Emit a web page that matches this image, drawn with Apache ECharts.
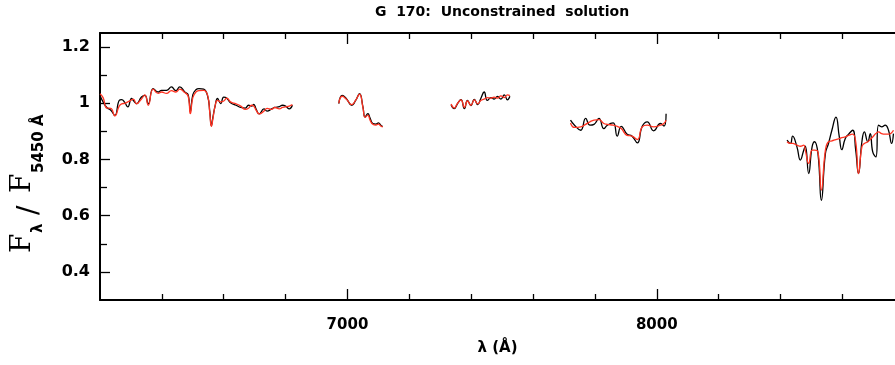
<!DOCTYPE html>
<html><head><meta charset="utf-8">
<script src="https://cdn.jsdelivr.net/npm/echarts@6/dist/echarts.min.js"></script>
<style>html,body{margin:0;padding:0;background:#fff}#c{width:895px;height:365px}</style>
</head><body><div id="c"></div>
<script>
// ---- data (wavelength in Å, flux normalised to F5450) ----
const wave1 = [6200,6210,6222,6235,6248,6262,6270,6280,6290,6302,6308,6318,6334,6345,6356,6372,6388,6399,6415,6431,6445,6458,6474,6485,6492,6500,6510,6520,6535,6548,6555,6560,6565,6572,6580,6590,6600,6610,6622,6640,6655,6670,6680,6690,6697,6705,6715,6730,6740,6755,6765,6780,6790,6800,6812,6822];
const obs1  = [1.028,1.005,0.985,0.975,0.957,1.010,1.013,1.003,0.987,1.017,1.010,0.999,1.022,1.028,0.998,1.052,1.040,1.046,1.046,1.058,1.045,1.058,1.040,1.030,0.970,1.030,1.048,1.052,1.050,1.025,0.970,0.920,0.950,0.990,1.017,0.999,1.022,1.018,1.002,0.993,0.985,0.983,0.993,0.990,0.996,0.978,0.962,0.980,0.972,0.980,0.985,0.988,0.993,0.990,0.980,0.993];
const mod1  = [1.034,1.020,0.983,0.982,0.955,0.990,0.998,1.000,1.005,1.012,1.015,0.998,1.015,1.030,0.993,1.050,1.035,1.040,1.035,1.045,1.040,1.050,1.038,1.025,0.963,1.020,1.040,1.045,1.046,1.028,0.965,0.918,0.945,0.990,1.010,1.005,1.008,1.018,1.005,0.998,0.990,0.978,0.982,0.993,0.990,0.975,0.962,0.972,0.982,0.978,0.985,0.980,0.985,0.987,0.990,0.995];

const wave2 = [6972,6983,6996,7014,7026,7039,7050,7057,7066,7073,7082,7092,7100,7109,7114];
const obs2  = [0.999,1.028,1.017,0.993,1.009,1.034,0.987,0.951,0.963,0.947,0.928,0.926,0.930,0.920,0.918];
const mod2  = [1.000,1.025,1.015,0.995,1.010,1.032,0.985,0.950,0.958,0.940,0.925,0.922,0.926,0.918,0.916];

const wave3 = [7335,7345,7356,7367,7378,7388,7399,7410,7421,7431,7442,7452,7464,7474,7485,7496,7507,7517,7525];
const obs3  = [0.995,0.981,0.999,1.013,0.981,1.010,0.992,1.014,0.995,1.017,1.040,1.010,1.020,1.015,1.024,1.015,1.030,1.012,1.025];
const mod3  = [0.997,0.983,1.000,1.012,0.985,1.008,0.993,1.012,0.998,1.010,1.015,1.020,1.018,1.022,1.018,1.026,1.020,1.030,1.027];

const wave4 = [7721,7734,7754,7770,7784,7797,7813,7829,7840,7859,7872,7885,7904,7920,7937,7953,7969,7990,8012,8023,8030];
const obs4  = [0.940,0.922,0.904,0.946,0.922,0.925,0.946,0.910,0.922,0.930,0.883,0.918,0.890,0.883,0.859,0.918,0.934,0.902,0.928,0.919,0.963];
const mod4  = [0.930,0.914,0.916,0.925,0.934,0.940,0.942,0.928,0.925,0.922,0.918,0.910,0.886,0.883,0.871,0.916,0.922,0.916,0.922,0.928,0.940];

const wave5 = [8421,8432,8439,8453,8464,8475,8480,8491,8502,8510,8521,8532,8545,8555,8566,8579,8590,8598,8609,8620,8633,8643,8652,8663,8671,8682,8690,8698,8708,8717,8727,8738,8749,8759,8765];
const obs5  = [0.869,0.857,0.883,0.845,0.798,0.833,0.847,0.750,0.845,0.863,0.821,0.655,0.821,0.857,0.904,0.951,0.880,0.835,0.874,0.890,0.904,0.833,0.750,0.863,0.898,0.863,0.892,0.827,0.809,0.922,0.916,0.922,0.904,0.857,0.892];
const mod5  = [0.863,0.857,0.857,0.851,0.847,0.851,0.833,0.786,0.833,0.833,0.827,0.691,0.833,0.863,0.866,0.871,0.874,0.878,0.880,0.886,0.890,0.863,0.750,0.845,0.857,0.863,0.871,0.880,0.892,0.898,0.892,0.890,0.890,0.895,0.904];

// ---- axes ----
const xLabels = [7000, 8000];
const xMinorTicks = [6400,6600,6800,7200,7400,7600,7800,8200,8400,8600];
const yLabels = [0.4, 0.6, 0.8, 1, 1.2];
const yMinorTicks = [0.5, 0.7, 0.9, 1.1];
const title = 'G  170:  Unconstrained  solution';

const X_MIN = 6200, X_MAX = 8770, Y_MIN = 0.3, Y_MAX = 1.25;

const segments = [[wave1,obs1,mod1],[wave2,obs2,mod2],[wave3,obs3,mod3],[wave4,obs4,mod4],[wave5,obs5,mod5]];
const series = [];
segments.forEach(([w,o,m]) => {
  series.push({type:'line', data:w.map((x,i)=>[x,o[i]]), showSymbol:false, smooth:0.5,
    lineStyle:{color:'#000', width:1.3}, z:2, silent:true});
});
segments.forEach(([w,o,m]) => {
  series.push({type:'line', data:w.map((x,i)=>[x,m[i]]), showSymbol:false, smooth:0.5,
    lineStyle:{color:'#ff3322', width:1.3}, z:3, silent:true});
});

const tickStyle = {color:'#000', width:1.3};
const lblFont = {color:'#000', fontSize:15, fontWeight:'bold', fontFamily:'DejaVu Sans'};

function xAxisDef(pos, ticks, len, line, labels) {
  return {type:'value', position:pos, min:X_MIN, max:X_MAX,
    axisLine:{show:line, onZero:false, lineStyle:{color:'#000', width:2}},
    axisTick:{show:true, inside:true, length:len, customValues:ticks, lineStyle:tickStyle},
    axisLabel: labels ? Object.assign({customValues:labels, margin:18, formatter:v=>String(v)}, lblFont) : {show:false},
    splitLine:{show:false}};
}
function yAxisDef(pos, ticks, len, line, labels) {
  return {type:'value', position:pos, min:Y_MIN, max:Y_MAX,
    axisLine:{show:line, onZero:false, lineStyle:{color:'#000', width:2}},
    axisTick:{show:true, inside:true, length:len, customValues:ticks, lineStyle:tickStyle},
    axisLabel: labels ? Object.assign({customValues:labels, margin:10, formatter:v=>String(v)}, lblFont, {fontSize:16}) : {show:false},
    splitLine:{show:false}};
}

const xMain = xAxisDef('bottom', xLabels, 11, true, xLabels);
xMain.name = 'λ (Å)';
xMain.nameLocation = 'middle';
xMain.nameGap = 41;
xMain.nameTextStyle = {color:'#000', fontSize:15, fontWeight:'bold', fontFamily:'DejaVu Sans'};

const chart = echarts.init(document.getElementById('c'), null, {renderer:'canvas'});
chart.setOption({
  animation:false,
  backgroundColor:'#fff',
  grid:{left:100, top:33, width:797, height:267, containLabel:false},
  xAxis:[
    xMain,
    xAxisDef('bottom', xMinorTicks, 6, false, null),
    xAxisDef('top', xLabels, 11, true, null),
    xAxisDef('top', xMinorTicks, 6, false, null)
  ],
  yAxis:[
    yAxisDef('left', yLabels, 10, true, yLabels),
    yAxisDef('left', yMinorTicks, 7, false, null)
  ],
  series: series,
  graphic:[
    {type:'text', x:502, y:12, style:{text:title, align:'center', verticalAlign:'middle',
      fill:'#000', font:'bold 14px "DejaVu Sans"'}},
    {type:'group', x:33, y:253, rotation:Math.PI/2, children:[
      {type:'text', x:0, y:-10, style:{text:'F', align:'left', verticalAlign:'middle', fill:'#000', font:'28px "DejaVu Serif"'}},
      {type:'text', x:20, y:5, style:{text:'λ', align:'left', verticalAlign:'middle', fill:'#000', font:'bold 15px "DejaVu Sans"'}},
      {type:'text', x:38, y:-3, style:{text:'/', align:'left', verticalAlign:'middle', fill:'#000', font:'28px "DejaVu Sans"'}},
      {type:'text', x:60, y:-10, style:{text:'F', align:'left', verticalAlign:'middle', fill:'#000', font:'28px "DejaVu Serif"'}},
      {type:'text', x:80, y:6, style:{text:'5450 Å', align:'left', verticalAlign:'middle', fill:'#000', font:'bold 15px "DejaVu Sans"'}}
    ]}
  ]
});
</script></body></html>
